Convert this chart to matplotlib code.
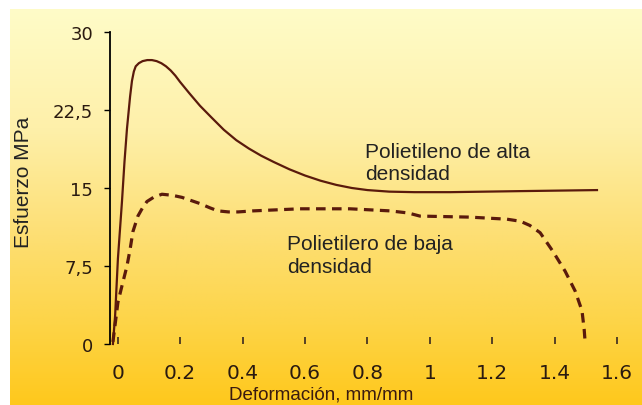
import numpy as np
import matplotlib
matplotlib.use("Agg")
import matplotlib.pyplot as plt

# ---- data ----
x_hd = [-0.015, -0.008, 0.001, 0.014, 0.022, 0.030, 0.040, 0.046, 0.052, 0.058, 0.068, 0.080,
        0.095, 0.110, 0.125, 0.140, 0.155, 0.170, 0.185, 0.200, 0.230, 0.264, 0.300, 0.340,
        0.380, 0.420, 0.460, 0.500, 0.550, 0.600, 0.650, 0.700, 0.750, 0.800, 0.870, 0.950,
        1.065, 1.290, 1.535]
y_hd = [0.0, 2.7, 8.2, 13.7, 17.5, 20.7, 23.8, 25.3, 26.2, 26.7, 27.0, 27.2,
        27.3, 27.3, 27.2, 27.0, 26.7, 26.3, 25.8, 25.2, 24.1, 22.9, 21.8, 20.6,
        19.6, 18.8, 18.1, 17.5, 16.8, 16.2, 15.7, 15.3, 15.0, 14.8, 14.65, 14.6,
        14.6, 14.7, 14.8]

x_ld = [-0.015, 0.001, 0.014, 0.030, 0.040, 0.049, 0.065, 0.080, 0.094, 0.115, 0.142, 0.175,
        0.206, 0.235, 0.264, 0.295, 0.321, 0.355, 0.386, 0.434, 0.584, 0.744, 0.872, 0.930,
        0.968, 1.128, 1.247, 1.290, 1.320, 1.353, 1.394, 1.433, 1.465, 1.487, 1.494, 1.497]
y_ld = [0.2, 4.0, 5.6, 7.5, 9.1, 10.8, 12.3, 13.1, 13.7, 14.1, 14.4, 14.3,
        14.1, 13.8, 13.5, 13.1, 12.8, 12.7, 12.7, 12.8, 13.0, 13.0, 12.8, 12.6,
        12.3, 12.2, 12.0, 11.8, 11.4, 10.7, 8.9, 7.0, 5.1, 3.2, 1.4, 0.2]

x_ticks = [0, 0.2, 0.4, 0.6, 0.8, 1.0, 1.2, 1.4, 1.6]
x_tick_labels = ["0", "0.2", "0.4", "0.6", "0.8", "1", "1.2", "1.4", "1.6"]
y_ticks = [0, 7.5, 15, 22.5, 30]
y_tick_labels = ["0", "7,5", "15", "22,5", "30"]

label_hd = ["Polietileno de alta", "densidad"]
label_ld = ["Polietilero de baja", "densidad"]
xlabel = "Deformación, mm/mm"
ylabel = "Esfuerzo MPa"

# ---- figure ----
W, H = 642, 406
fig = plt.figure(figsize=(W / 100, H / 100), dpi=100)
fig.patch.set_facecolor("white")

# background gradient (leaves thin white border at top and left)
bg = fig.add_axes([10 / W, 0, (W - 10) / W, (H - 10) / H], zorder=0)
rows = 400
t = np.linspace(0, 1, rows)
stops = [0.0, 0.3, 0.55, 0.8, 1.0]
r = np.interp(t, stops, [255, 254, 253, 253, 255])
g = np.interp(t, stops, [252, 240, 224, 212, 200])
b = np.interp(t, stops, [200, 170, 120, 70, 28])
grad = np.stack([r, g, b], axis=1)[:, None, :] / 255.0
grad = np.repeat(grad, 2, axis=1)
bg.imshow(grad, aspect="auto", extent=[0, 1, 0, 1], interpolation="bilinear")
bg.set_axis_off()

# main axes
x_left_px, x_right_px = 110, 630
y_top_px, y_bot_px = 33, 345
ax = fig.add_axes([x_left_px / W, (H - y_bot_px) / H,
                   (x_right_px - x_left_px) / W, (y_bot_px - y_top_px) / H], zorder=2)
ax.set_facecolor("none")
px_per_unit = 312.3
x0_px = 117.6
ax.set_xlim((x_left_px - x0_px) / px_per_unit, (x_right_px - x0_px) / px_per_unit)
ax.set_ylim(0, 30)

line_color = "#5a1a0c"
ax.plot(x_hd, y_hd, color=line_color, lw=1.6, clip_on=False, zorder=3,
        solid_joinstyle="round")
ax.plot(x_ld, y_ld, color=line_color, lw=2.3, linestyle=(0, (3, 2)), clip_on=False, zorder=3)

for s in ["top", "right", "bottom"]:
    ax.spines[s].set_visible(False)
ax.spines["left"].set_color("black")
ax.spines["left"].set_linewidth(1.3)

ax.set_xticks(x_ticks)
ax.set_xticklabels(x_tick_labels, fontsize=14.5, family="DejaVu Sans", color="#2a1a10")
ax.set_yticks(y_ticks)
ax.set_yticklabels(y_tick_labels, fontsize=13, family="DejaVu Sans", color="#2a1a10")
ax.tick_params(axis="x", direction="in", length=5, width=1.2, pad=14, color="#3a2a20")
ax.tick_params(axis="y", direction="out", length=4, width=1.0, pad=8, color="black")

txt_font = dict(family="Liberation Sans", fontsize=15, color="#222222")
ax.text(0.793, 17.98, label_hd[0], va="baseline", ha="left", **txt_font)
ax.text(0.793, 15.9, label_hd[1], va="baseline", ha="left", **txt_font)
ax.text(0.542, 9.13, label_ld[0], va="baseline", ha="left", **txt_font)
ax.text(0.542, 6.92, label_ld[1], va="baseline", ha="left", **txt_font)

fig.text(321 / W, (H - 395) / H, xlabel, ha="center", va="center",
         family="Liberation Sans", fontsize=13.5, color="#3a1a10", zorder=3)
fig.text(24 / W, (H - 182) / H, ylabel, ha="center", va="center", rotation=90,
         family="Liberation Sans", fontsize=15, color="#222222", zorder=3)

fig.savefig("out.png", dpi=100, facecolor=fig.get_facecolor())
